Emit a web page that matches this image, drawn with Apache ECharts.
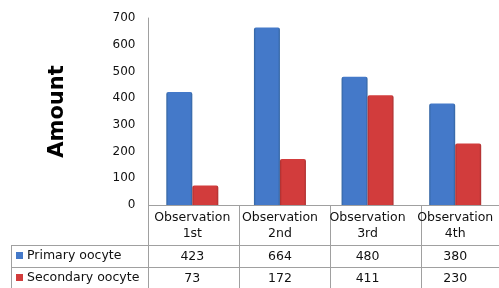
<!DOCTYPE html>
<html>
<head>
<meta charset="utf-8">
<script src="https://cdn.jsdelivr.net/npm/echarts@6/dist/echarts.min.js"></script>
<style>
html, body { margin: 0; padding: 0; background: #fff; }
#chart { width: 499px; height: 288px; }
</style>
</head>
<body>
<div id="chart"></div>
<script>
var categories = ['Observation\n1st', 'Observation\n2nd', 'Observation\n3rd', 'Observation\n4th'];
var seriesNames = ['Primary oocyte', 'Secondary oocyte'];
var primaryValues = [423, 664, 480, 380];
var secondaryValues = [73, 172, 411, 230];
var yTicks = [0, 100, 200, 300, 400, 500, 600, 700];

var FONT = 'DejaVu Sans';
var LINE = '#a0a0a0';
var gridLeft = 148.5, gridTop = 18, gridBottom = 205, colW = 91;

function barColor(edge, main) {
	return new echarts.graphic.LinearGradient(0, 0, 1, 0, [
		{ offset: 0, color: edge },
		{ offset: 0.08, color: main },
		{ offset: 0.92, color: main },
		{ offset: 1, color: edge }
	]);
}
var blue = barColor('#33649f', '#4479c9');
var red = barColor('#aa3030', '#d23c3c');

function rowAxis(offset, values) {
	return {
		type: 'category',
		data: categories,
		position: 'bottom',
		offset: offset,
		axisLine: { show: false },
		axisTick: { show: false },
		axisLabel: {
			interval: 0,
			margin: 5,
			fontFamily: FONT,
			fontSize: 12.5,
			color: '#111',
			formatter: function(v, i) { return String(values[i]); }
		}
	};
}

var chart = echarts.init(document.getElementById('chart'));
chart.setOption({
	animation: false,
	backgroundColor: '#fff',
	grid: { left: gridLeft, top: gridTop, height: gridBottom - gridTop, width: colW * categories.length },
	xAxis: [{
		type: 'category',
		data: categories,
		axisLine: { lineStyle: { color: LINE } },
		axisTick: { show: false },
		axisLabel: { interval: 0, margin: 5, fontFamily: FONT, fontSize: 12.5, color: '#111', lineHeight: 16 }
	}, rowAxis(40, primaryValues), rowAxis(62, secondaryValues)],
	yAxis: {
		type: 'value',
		min: yTicks[0],
		max: yTicks[yTicks.length - 1],
		interval: 100,
		name: 'Amount',
		nameLocation: 'middle',
		nameRotate: 90,
		nameGap: 80,
		nameTextStyle: { fontFamily: FONT, fontSize: 21, fontWeight: 'bold', color: '#000' },
		axisLine: { show: true, lineStyle: { color: LINE } },
		axisTick: { show: false },
		splitLine: { show: false },
		axisLabel: { margin: 13, fontFamily: FONT, fontSize: 12, color: '#111' }
	},
	series: [{
		name: seriesNames[0],
		type: 'bar',
		data: primaryValues,
		barWidth: 26,
		barGap: '0%',
		itemStyle: { color: blue, borderRadius: [2, 2, 0, 0] }
	}, {
		name: seriesNames[1],
		type: 'bar',
		data: secondaryValues,
		barWidth: 26,
		barGap: '0%',
		itemStyle: { color: red, borderRadius: [2, 2, 0, 0] }
	}]
});

// table lines and row headers
var tableLeft = 11, rowY = [245, 267], bottomY = 288;
var g = [];
rowY.forEach(function(y) {
	g.push({ type: 'line', shape: { x1: tableLeft, y1: y + 0.5, x2: 499, y2: y + 0.5 }, style: { stroke: LINE, lineWidth: 1 } });
});
g.push({ type: 'line', shape: { x1: tableLeft + 0.5, y1: rowY[0], x2: tableLeft + 0.5, y2: bottomY }, style: { stroke: LINE, lineWidth: 1 } });
for (var i = 0; i <= categories.length; i++) {
	var x = Math.floor(gridLeft + colW * i) + 0.5;
	g.push({ type: 'line', shape: { x1: x, y1: gridBottom, x2: x, y2: bottomY }, style: { stroke: LINE, lineWidth: 1 } });
}
var swatches = ['#4479c9', '#d23c3c'];
seriesNames.forEach(function(name, k) {
	var cy = rowY[k] + 11;
	g.push({ type: 'rect', shape: { x: 16, y: cy - 4, width: 7, height: 7 }, style: { fill: swatches[k] } });
	g.push({ type: 'text', x: 27, y: cy, style: { text: name, fontFamily: FONT, fontSize: 12.5, fill: '#111', verticalAlign: 'middle' } });
});
chart.setOption({ graphic: g });
</script>
</body>
</html>
